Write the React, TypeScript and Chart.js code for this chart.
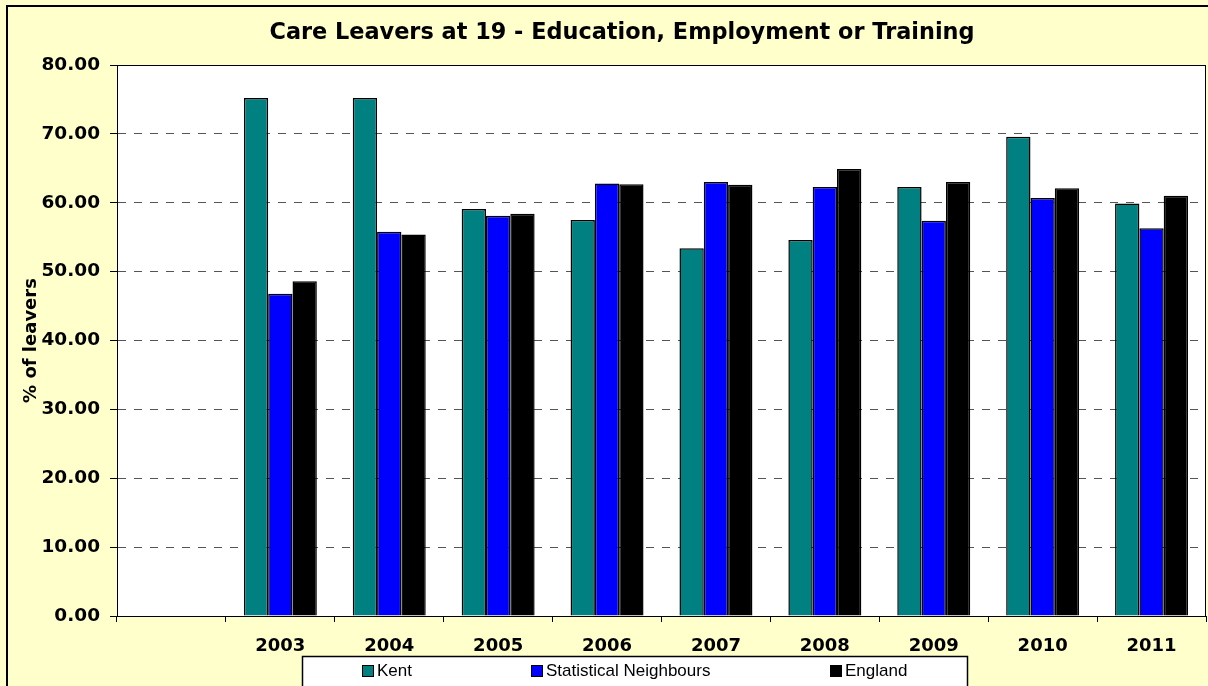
import React, { useEffect, useRef } from "react";
import { Chart, registerables } from "chart.js";

Chart.register(...registerables);

const categories = ["", "2003", "2004", "2005", "2006", "2007", "2008", "2009", "2010", "2011"];
const kentValues = [null, 75.2, 75.2, 59.1, 57.5, 53.4, 54.6, 62.3, 69.6, 59.9];
const statNeighbourValues = [null, 46.8, 55.8, 58.1, 62.8, 63.0, 62.3, 57.4, 60.7, 56.3];
const englandValues = [null, 48.6, 55.4, 58.4, 62.7, 62.6, 64.9, 63.0, 62.1, 61.0];
const seriesNames = ["Kent", "Statistical Neighbours", "England"];
const seriesColors = ["#008080", "#0000FF", "#000000"];
const yMin = 0;
const yMax = 80;
const yStep = 10;
const titleText = "Care Leavers at 19 - Education, Employment or Training";
const yTitleText = "% of leavers";

const BOLD_FONT = "'DejaVu Sans', Verdana, sans-serif";
const LEGEND_FONT = "'Liberation Sans', Arial, sans-serif";

const framePlugin = {
  id: "frame",
  beforeDraw(chart: any) {
    const { ctx, chartArea: a, width, height } = chart;
    ctx.save();
    ctx.fillStyle = "#FFFFCC";
    ctx.fillRect(0, 0, width, height);
    ctx.strokeStyle = "#000";
    ctx.lineWidth = 2;
    ctx.strokeRect(7, 6, width + 40, height + 40);
    ctx.fillStyle = "#FFFFFF";
    ctx.fillRect(a.left, a.top, a.right - a.left, a.bottom - a.top);
    ctx.restore();
  },
  afterDraw(chart: any) {
    const { ctx, chartArea: a, width } = chart;
    ctx.save();
    // chart title
    ctx.fillStyle = "#000";
    ctx.font = `bold 22.4px ${BOLD_FONT}`;
    ctx.textAlign = "center";
    ctx.textBaseline = "middle";
    ctx.fillText(titleText, width / 2, 33);
    // plot frame
    ctx.strokeStyle = "#000";
    ctx.lineWidth = 1;
    ctx.strokeRect(a.left + 0.5, a.top + 0.5, a.right - a.left - 1, a.bottom - a.top);
    // legend box
    const boxX = 302;
    const boxY = 656;
    const boxW = 665;
    const boxH = 60;
    ctx.fillStyle = "#FFFFFF";
    ctx.fillRect(boxX, boxY, boxW, boxH);
    ctx.lineWidth = 1.5;
    ctx.strokeRect(boxX + 0.5, boxY + 0.5, boxW, boxH);
    ctx.lineWidth = 1;
    const itemX = [362, 531, 830];
    ctx.font = `17px ${LEGEND_FONT}`;
    ctx.textBaseline = "middle";
    ctx.textAlign = "left";
    chart.data.datasets.forEach((ds: any, i: number) => {
      const x = itemX[i];
      const y = 665;
      ctx.fillStyle = ds.backgroundColor;
      ctx.fillRect(x, y, 11, 11);
      ctx.strokeStyle = "#000";
      ctx.strokeRect(x + 0.5, y + 0.5, 11, 11);
      ctx.fillStyle = "#000";
      ctx.fillText(ds.label, x + 15, y + 6.5);
    });
    ctx.restore();
  },
};

export default function App() {
  const canvasRef = useRef<HTMLCanvasElement | null>(null);

  useEffect(() => {
    if (!canvasRef.current) return;
    const seriesValues = [kentValues, statNeighbourValues, englandValues];
    const chart = new Chart(canvasRef.current, {
      type: "bar",
      data: {
        labels: categories,
        datasets: seriesNames.map((name, i) => ({
          label: name,
          data: seriesValues[i] as any,
          backgroundColor: seriesColors[i],
          borderColor: "#000000",
          borderWidth: 1.5,
          categoryPercentage: 0.67,
          barPercentage: 1.0,
        })),
      },
      options: {
        responsive: false,
        animation: false,
        devicePixelRatio: 1,
        layout: { padding: { left: 0, right: 38, top: 65, bottom: 0 } },
        plugins: {
          legend: { display: false },
          tooltip: { enabled: false },
          title: { display: false },
        },
        scales: {
          x: {
            offset: true,
            grid: {
              display: true,
              drawOnChartArea: false,
              drawTicks: true,
              tickLength: 6,
              tickColor: "#000",
              offset: true,
            },
            border: { display: true, color: "#000", width: 1 },
            ticks: {
              color: "#000",
              font: { family: BOLD_FONT, size: 18, weight: "bold" },
              padding: 14,
              maxRotation: 0,
              autoSkip: false,
            },
            afterFit(scale: any) {
              scale.height = 70;
            },
          },
          y: {
            min: yMin,
            max: yMax,
            grid: {
              color: "#555555",
              lineWidth: 1,
              tickLength: 7,
              tickColor: "#000",
              drawTicks: true,
            },
            border: { display: true, color: "#000", width: 1, dash: [8, 8] },
            ticks: {
              stepSize: yStep,
              color: "#000",
              font: { family: BOLD_FONT, size: 18.5, weight: "bold" },
              padding: 10,
              callback: (v: any) => Number(v).toFixed(2),
            },
            title: {
              display: true,
              text: yTitleText,
              color: "#000",
              font: { family: BOLD_FONT, size: 18, weight: "bold" },
              padding: { top: 21, bottom: 0 },
            },
            afterFit(scale: any) {
              scale.width = 117;
            },
          },
        },
      },
      plugins: [framePlugin],
    });
    return () => chart.destroy();
  }, []);

  return (
    <div
      style={{
        position: "fixed",
        left: 0,
        top: 0,
        width: 1208,
        height: 686,
        overflow: "hidden",
      }}
    >
      <canvas ref={canvasRef} width={1244} height={686} style={{ width: 1244, height: 686, display: "block" }} />
    </div>
  );
}
